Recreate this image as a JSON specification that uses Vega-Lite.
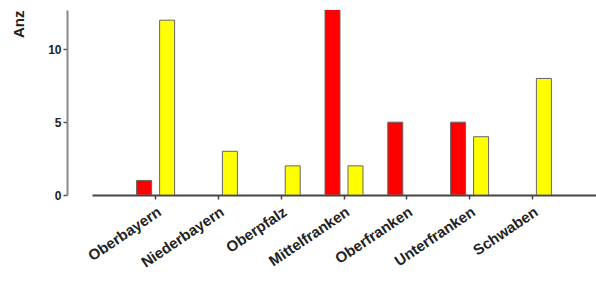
{
  "$schema": "https://vega.github.io/schema/vega-lite/v6.json",
  "autosize": "none",
  "width": 504,
  "height": 185,
  "padding": {"left": 92, "top": 10, "right": 0, "bottom": 87},
  "background": "white",
  "config": {"view": {"stroke": null}, "axis": {"grid": false}},
  "data": {"values": [
    {"region": "Oberbayern", "serie": "A", "anzahl": 1},
    {"region": "Oberbayern", "serie": "B", "anzahl": 12},
    {"region": "Niederbayern", "serie": "A", "anzahl": 0},
    {"region": "Niederbayern", "serie": "B", "anzahl": 3},
    {"region": "Oberpfalz", "serie": "A", "anzahl": 0},
    {"region": "Oberpfalz", "serie": "B", "anzahl": 2},
    {"region": "Mittelfranken", "serie": "A", "anzahl": 13},
    {"region": "Mittelfranken", "serie": "B", "anzahl": 2},
    {"region": "Oberfranken", "serie": "A", "anzahl": 5},
    {"region": "Oberfranken", "serie": "B", "anzahl": 0},
    {"region": "Unterfranken", "serie": "A", "anzahl": 5},
    {"region": "Unterfranken", "serie": "B", "anzahl": 4},
    {"region": "Schwaben", "serie": "A", "anzahl": 0},
    {"region": "Schwaben", "serie": "B", "anzahl": 8}
  ]},
  "transform": [{"filter": "datum.anzahl > 0"}],
  "mark": {"type": "bar", "clip": true, "stroke": "#666", "strokeWidth": 1},
  "encoding": {
    "x": {
      "field": "region", "type": "nominal", "sort": null,
      "scale": {"domain": ["Oberbayern", "Niederbayern", "Oberpfalz", "Mittelfranken", "Oberfranken", "Unterfranken", "Schwaben"], "paddingInner": 0, "paddingOuter": 0.513},
      "axis": {
        "title": null, "labelAngle": -34, "labelAlign": "right", "labelBaseline": "top",
        "labelFont": "Liberation Sans", "labelFontSize": 15, "labelFontWeight": "bold", "labelColor": "#222",
        "domainColor": "#444", "domainWidth": 2, "tickColor": "#444", "tickSize": 4, "tickWidth": 1.5,
        "labelPadding": 5, "labelDx": 0
      }
    },
    "xOffset": {"field": "serie", "type": "nominal", "scale": {"domain": ["A", "B"], "paddingInner": 0.348, "paddingOuter": 0.539}},
    "y": {
      "field": "anzahl", "type": "quantitative",
      "scale": {"domain": [0, 12.7], "nice": false},
      "axis": {
        "values": [0, 5, 10], "offset": 25,
        "labelFont": "Liberation Sans", "labelFontSize": 12, "labelFontWeight": "bold", "labelColor": "#222",
        "domainColor": "#888", "domainWidth": 2, "tickColor": "#555", "tickSize": 4, "tickWidth": 1.5,
        "title": "Anz", "titleFont": "Liberation Sans", "titleFontSize": 15, "titleFontWeight": "bold", "titleColor": "#222",
        "titleAngle": -90, "titleX": -49, "titleY": 0, "titleAlign": "right", "titleBaseline": "middle"
      }
    },
    "color": {"field": "serie", "type": "nominal", "scale": {"domain": ["A", "B"], "range": ["#ff0000", "#ffff00"]}, "legend": null}
  }
}
